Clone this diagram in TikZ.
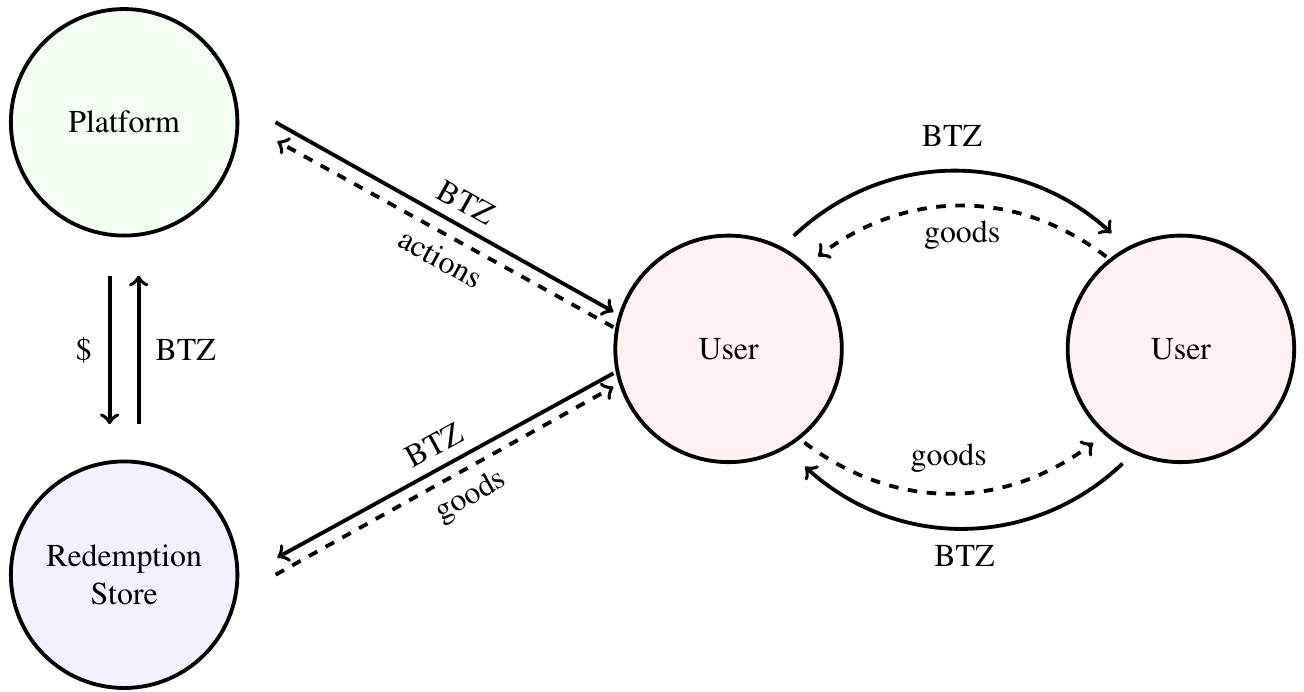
\documentclass[tikz,border=0pt]{standalone}
\usepackage[T1]{fontenc}
\usepackage{times}
\usepackage{xcolor}
\usepackage{tikz}
\usetikzlibrary{positioning,arrows}
\tikzstyle{party}=[circle, draw=black, very thick, minimum size=2.5cm, text centered, text width=1.9cm]
\tikzstyle{flow}=[->, very thick]
\tikzstyle{back}=[->, very thick, dashed]

\begin{document}
\begin{tikzpicture}
        \useasboundingbox (-1.37,1.35) rectangle (13.02,-6.28);
        \node(platform)[party, fill=green!5]{
            Platform
        };
        \node(store)[party, fill=blue!5, below=2.45cm of platform]{
            Redemption\\Store
        };
        \node(user)[party, fill=red!5] at (6.67,-2.5){
            User
        };
        \node(user2)[party, fill=red!5, right=2.45cm of user]{
            User
        };
        \draw[flow] ([xshift=-1.6mm,yshift=-4.2mm]platform.south) -- node[left=0.6mm]{\$} ([xshift=-1.6mm,yshift=3.9mm]store.north);
        \draw[flow] ([xshift=1.6mm,yshift=3.9mm]store.north) -- node[right=0.5mm]{BTZ} ([xshift=1.6mm,yshift=-4.2mm]platform.south);
        \draw[flow] ([xshift=4mm]platform.east) -- node[above, sloped, pos=0.53]{BTZ} ([yshift=4.1mm]user.west);
        \draw[back] ([yshift=2.4mm]user.west) -- node[below, sloped, pos=0.48]{actions} ([xshift=4.2mm,yshift=-2.1mm]platform.east);
        \draw[back] ([xshift=4mm]store.east) -- node[below, sloped, pos=0.54]{goods} ([yshift=-4.2mm]user.west);
        \draw[flow] ([yshift=-2.7mm]user.west) -- node[above, sloped]{BTZ} ([xshift=4.2mm,yshift=1.9mm]store.east);
        \draw[flow] ([shift={(60:1.44)}]user.center) to[bend left=43] node[above=1.3mm]{BTZ} ([shift={(121:1.49)}]user2.center);
        \draw[back] ([shift={(129:1.31)}]user2.center) to[bend right=37] node[below=0.3mm]{goods} ([shift={(46:1.42)}]user.center);
        \draw[back] ([shift={(-51:1.33)}]user.center) to[bend right=37] node[above=1mm]{goods} ([shift={(-133:1.42)}]user2.center);
        \draw[flow] ([shift={(-117:1.42)}]user2.center) to[bend left=43] node[below=0.5mm]{BTZ} ([shift={(-57:1.55)}]user.center);
    \end{tikzpicture}
\end{document}
